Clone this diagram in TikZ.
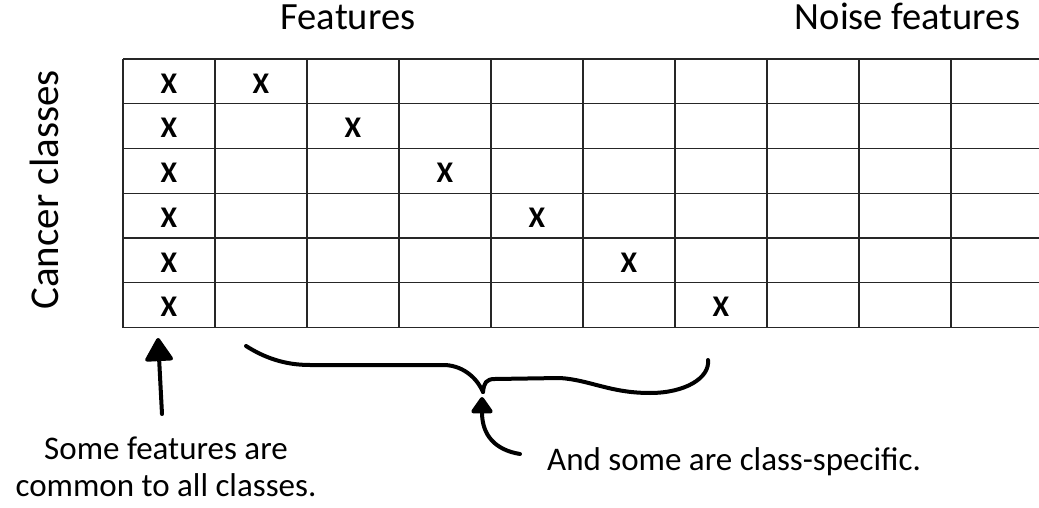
\documentclass[tikz,border=0pt]{standalone}
\usepackage{fontspec}
\setmainfont{Carlito}
\usetikzlibrary{arrows.meta}

\begin{document}
\begin{tikzpicture}[
    x=1pt, y=-1pt,
    grid line/.style={line width=1.3pt, black!85},
    cross/.style={font=\fontsize{30}{30}\selectfont\bfseries, inner sep=0pt},
    title/.style={font=\fontsize{38.5}{40}\selectfont, inner sep=0pt, anchor=base},
    remark/.style={font=\fontsize{33}{37}\selectfont, inner sep=0pt, align=center},
    hand/.style={line width=4pt, line cap=round, line join=round},
    big pointer/.style={hand, -{Triangle[length=25pt, width=30pt, round]}},
    small pointer/.style={hand, -{Triangle[length=18pt, width=24pt, round]}}
    ]
    \useasboundingbox (0,0) rectangle (1039,508);

    % grid
    \foreach \r in {0,...,6}
        \draw[grid line] (123,{59+44.75*\r}) -- (1039,{59+44.75*\r});
    \foreach \c in {0,...,9}
        \draw[grid line] ({123+92*\c},59) -- ({123+92*\c},327.5);

    % marks
    \foreach \r in {1,...,6} {
        \node[cross] (common\r) at (169,{59+44.75*(\r-0.5)+2}) {X};
        \node[cross] (specific\r) at ({169+92*\r},{59+44.75*(\r-0.5)+2}) {X};
    }

    % labels
    \node[title] (features) at (348,30) {Features};
    \node[title] (noise) at (907.5,30) {Noise features};
    \node[title, font=\fontsize{41}{44}\selectfont, rotate=90] (classes) at (58,190) {Cancer classes};
    \node[remark, anchor=base] (shared) at (166,496) {Some features are\\common to all classes.};
    \node[remark, anchor=base west] (own) at (547,470) {And some are class-specific.};

    % brace
    \coordinate (cusp) at (483,392);
    \draw[hand] (246,346) .. controls (265,358) and (285,365) .. (310,365)
        -- (445,365) .. controls (465,366) and (478,380) .. (cusp);
    \draw[hand] (cusp) .. controls (484,383) and (486,379) .. (495,379)
        -- (560,378) .. controls (590,380) and (610,393) .. (650,393)
        .. controls (685,393) and (710,378) .. (708,360);

    % arrows
    \coordinate (sharedtail) at (162,414);
    \coordinate (sharedtip) at (158,338);
    \draw[big pointer] (sharedtail) -- (sharedtip);
    \coordinate (owntail) at (520,454);
    \coordinate (owntip) at (482,397);
    \draw[small pointer] (owntail) .. controls (495,450) and (482,435) .. (owntip);
\end{tikzpicture}
\end{document}
